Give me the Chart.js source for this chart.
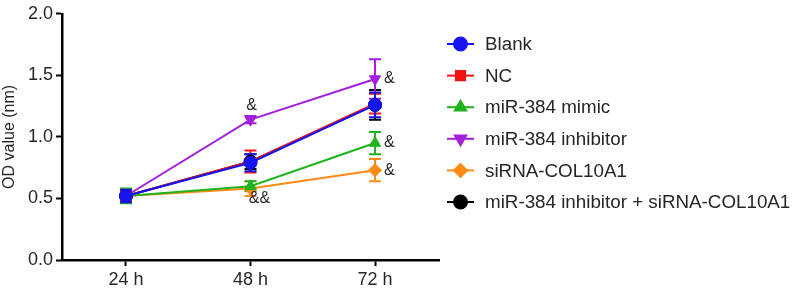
<!DOCTYPE html>
<html>
<head>
<meta charset="utf-8">
<script src="https://cdn.jsdelivr.net/npm/chart.js@4"></script>
<style>
  body { margin: 0; background: #fff; }
  #wrap { width: 793px; height: 293px; }
</style>
</head>
<body>
<div id="wrap"><canvas id="myChart" width="793" height="293"></canvas></div>
<script>
const hours = [24, 48, 72]
const names = ['Blank', 'NC', 'miR-384 mimic', 'miR-384 inhibitor', 'siRNA-COL10A1', 'miR-384 inhibitor + siRNA-COL10A1']
const blank = [0.52, 0.79, 1.26]
const nc = [0.52, 0.80, 1.27]
const mimic = [0.52, 0.60, 0.95]
const inhibitor = [0.52, 1.14, 1.47]
const sirna = [0.52, 0.58, 0.73]
const combo = [0.52, 0.80, 1.26]
const blankErr = [0.05, 0.07, 0.10]
const ncErr = [0.04, 0.09, 0.08]
const mimicErr = [0.06, 0.04, 0.09]
const inhibitorErr = [0.02, 0.03, 0.16]
const sirnaErr = [0.03, 0.06, 0.09]
const comboErr = [0.04, 0.06, 0.12]
// significance marks: [series index, point index, text, position]
const marks = [[3, 1, '&', 'above'], [3, 2, '&', 'right'], [2, 2, '&', 'right'], [4, 2, '&', 'right'], [4, 1, '&&', 'below']]

const colors = ['#1414f0', '#f01414', '#1fb41f', '#a21fdc', '#ff8a14', '#000000']
const styles = ['circle', 'rect', 'triangle', 'triangle', 'rectRot', 'circle']
const rotations = [0, 0, 0, 180, 0, 0]
const values = [blank, nc, mimic, inhibitor, sirna, combo]
const errors = [blankErr, ncErr, mimicErr, inhibitorErr, sirnaErr, comboErr]

const font = "'Liberation Sans', Arial, sans-serif"
const textColor = '#262626'

const datasets = names.map((n, i) => ({
    label: n,
    data: hours.map((h, j) => ({x: h, y: values[i][j]})),
    borderColor: colors[i],
    backgroundColor: colors[i],
    borderWidth: 2,
    pointStyle: styles[i],
    rotation: rotations[i],
    pointRadius: styles[i] === 'rect' ? 6 : 6.5,
    pointBorderWidth: 1,
    fill: false,
    tension: 0
}))

const errorBars = {
    id: 'errorBars',
    beforeDatasetsDraw(chart) {
        const ctx = chart.ctx
        const xs = chart.scales.x, ys = chart.scales.y
        ctx.save()
        ctx.lineWidth = 2
        for (let i = values.length - 1; i >= 0; i--) {
            ctx.strokeStyle = colors[i]
            hours.forEach((h, j) => {
                const x = xs.getPixelForValue(h)
                const top = ys.getPixelForValue(values[i][j] + errors[i][j])
                const bot = ys.getPixelForValue(values[i][j] - errors[i][j])
                ctx.beginPath()
                ctx.moveTo(x, top); ctx.lineTo(x, bot)
                ctx.moveTo(x - 6, top); ctx.lineTo(x + 6, top)
                ctx.moveTo(x - 6, bot); ctx.lineTo(x + 6, bot)
                ctx.stroke()
            })
        }
        ctx.restore()
    },
    afterDraw(chart) {
        const ctx = chart.ctx
        const xs = chart.scales.x, ys = chart.scales.y
        ctx.save()
        ctx.fillStyle = textColor
        ctx.font = '16px ' + font
        ctx.textBaseline = 'middle'
        marks.forEach(([i, j, t, pos]) => {
            const x = xs.getPixelForValue(hours[j])
            const y = ys.getPixelForValue(values[i][j])
            if (pos === 'above') { ctx.textAlign = 'center'; ctx.fillText(t, x + 1, y - 14) }
            else if (pos === 'right') { ctx.textAlign = 'left'; ctx.fillText(t, x + 9, y) }
            else { ctx.textAlign = 'center'; ctx.fillText(t, x + 9, y + 10) }
        })
        // legend
        ctx.textAlign = 'left'
        ctx.font = '18.8px ' + font
        names.forEach((n, i) => {
            const y = 44 + i * 31.6
            ctx.strokeStyle = colors[i]
            ctx.lineWidth = 2
            ctx.beginPath()
            ctx.moveTo(447, y); ctx.lineTo(474, y)
            ctx.stroke()
            ctx.fillStyle = colors[i]
            Chart.helpers.drawPoint(ctx, {pointStyle: styles[i], rotation: rotations[i], radius: 6.5, borderWidth: 1}, 460.5, y)
            ctx.fill()
            ctx.fillStyle = textColor
            ctx.fillText(n, 485, y + 1)
        })
        ctx.restore()
    }
}

const ctx = document.getElementById('myChart').getContext('2d')
const myChart = new Chart(ctx, {
    type: 'line',
    data: {datasets: datasets},
    plugins: [errorBars],
    options: {
        responsive: false,
        animation: false,
        layout: {padding: {left: 0, right: 354, top: 10, bottom: 0}},
        plugins: {legend: {display: false}, tooltip: {enabled: false}},
        scales: {
            x: {
                type: 'linear',
                min: 11.67,
                max: 84.33,
                afterBuildTicks: axis => { axis.ticks = hours.map(h => ({value: h})) },
                afterFit: axis => { axis.height = 33 },
                ticks: {
                    color: textColor,
                    font: {family: font, size: 18},
                    padding: 3,
                    maxRotation: 0,
                    callback: v => v + ' h'
                },
                grid: {display: true, drawOnChartArea: false, tickLength: 6, tickColor: '#000', tickWidth: 2},
                border: {color: '#000', width: 2.5}
            },
            y: {
                min: 0,
                max: 2,
                afterFit: axis => { axis.width = 62 },
                ticks: {
                    stepSize: 0.5,
                    color: textColor,
                    font: {family: font, size: 18},
                    padding: 3,
                    callback: v => v.toFixed(1)
                },
                title: {display: true, text: 'OD value (nm)', color: textColor, font: {family: font, size: 16}, padding: 0},
                grid: {drawOnChartArea: false, tickLength: 6, tickColor: '#000', tickWidth: 2},
                border: {color: '#000', width: 2.5}
            }
        }
    }
})
</script>
</body>
</html>
